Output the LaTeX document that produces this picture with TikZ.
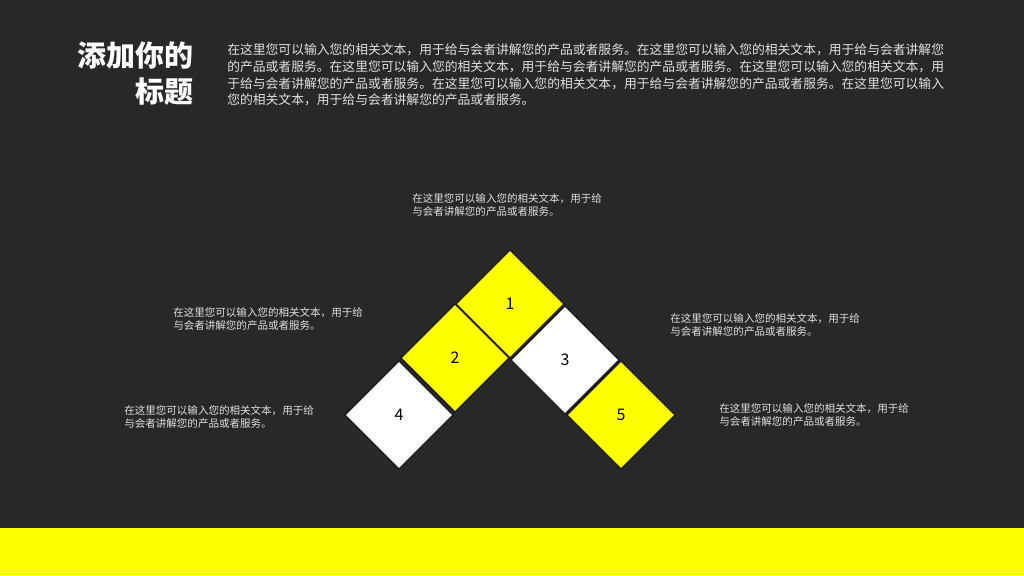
\documentclass[tikz,border=0pt]{standalone}
\usepackage{fontspec}
\setmainfont{Noto Sans CJK SC}
\newfontfamily\cjk{Noto Sans CJK SC}
\usetikzlibrary{shapes.geometric}
\definecolor{bgdark}{RGB}{40,40,40}
\definecolor{ylw}{RGB}{255,255,0}
\definecolor{txtgray}{RGB}{225,225,225}
\definecolor{edge}{RGB}{30,30,30}
\tikzset{
  tile/.style={shape=diamond, aspect=1, minimum width=109*0.75pt, minimum height=109*0.75pt,
    inner sep=0pt, draw=edge, line width=1.2pt, font=\cjk\fontsize{12pt}{14pt}\selectfont, text=black},
  ytile/.style={tile, fill=ylw},
  wtile/.style={tile, fill=white},
  para/.style={anchor=west, inner sep=0pt, text=txtgray, font=\cjk\fontsize{9.6pt}{12pt}\selectfont},
  small/.style={anchor=west, inner sep=0pt, text=txtgray, font=\cjk\fontsize{7.9pt}{10pt}\selectfont},
  ttl/.style={anchor=east, inner sep=0pt, text=white, font=\cjk\bfseries\fontsize{21.75pt}{26pt}\selectfont},
}
\begin{document}
\begin{tikzpicture}[x=0.75pt,y=-0.75pt]
\useasboundingbox (0,0) rectangle (1024,575);
\fill[bgdark] (0,0) rectangle (1024,575);
\fill[ylw] (0,528) rectangle (1024,575);
% title
\node[ttl] (t1) at (194,55) {添加你的};
\node[ttl] (t2) at (194,91) {标题};
% paragraph
\node[para] (p1) at (227,50) {在这里您可以输入您的相关文本，用于给与会者讲解您的产品或者服务。在这里您可以输入您的相关文本，用于给与会者讲解您};
\node[para] (p2) at (227,67) {的产品或者服务。在这里您可以输入您的相关文本，用于给与会者讲解您的产品或者服务。在这里您可以输入您的相关文本，用};
\node[para] (p3) at (227,84) {于给与会者讲解您的产品或者服务。在这里您可以输入您的相关文本，用于给与会者讲解您的产品或者服务。在这里您可以输入};
\node[para] (p4) at (227,100) {您的相关文本，用于给与会者讲解您的产品或者服务。};
% tiles
\node[ytile] (s1) at (510,304) {1};
\node[ytile] (s2) at (455,358) {2};
\node[wtile] (s3) at (565,360) {3};
\node[wtile] (s4) at (399,415) {4};
\node[ytile] (s5) at (621,415) {5};
% labels
\node[small] (a1) at (412,199) {在这里您可以输入您的相关文本，用于给};
\node[small] (a2) at (412,212) {与会者讲解您的产品或者服务。};
\node[small] (b1) at (173,313) {在这里您可以输入您的相关文本，用于给};
\node[small] (b2) at (173,326) {与会者讲解您的产品或者服务。};
\node[small] (c1) at (124,411) {在这里您可以输入您的相关文本，用于给};
\node[small] (c2) at (124,424) {与会者讲解您的产品或者服务。};
\node[small] (d1) at (670,319) {在这里您可以输入您的相关文本，用于给};
\node[small] (d2) at (670,332) {与会者讲解您的产品或者服务。};
\node[small] (e1) at (719,409) {在这里您可以输入您的相关文本，用于给};
\node[small] (e2) at (719,422) {与会者讲解您的产品或者服务。};
\end{tikzpicture}
\end{document}
